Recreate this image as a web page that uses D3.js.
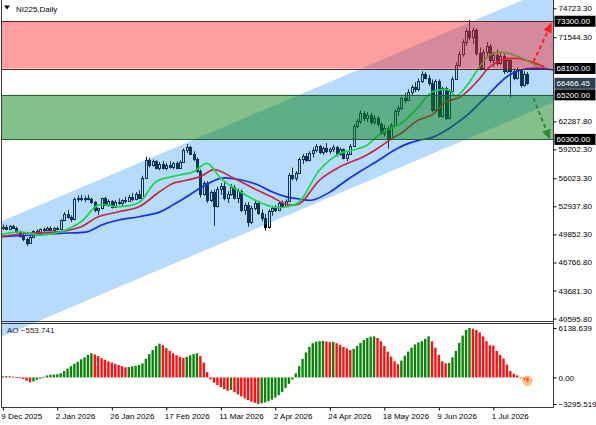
<!DOCTYPE html>
<html>
<head>
<meta charset="utf-8">
<script src="https://cdn.jsdelivr.net/npm/d3@7"></script>
<style>
  body { margin: 0; background: #fff; }
  svg { display: block; font-family: "Liberation Sans", Arial, sans-serif; }
</style>
</head>
<body>
<div id="chart"></div>
<script>
// ---------------------------------------------------------------------------
// NI225 Daily — candles, Alligator, channel, zones, AO
// ---------------------------------------------------------------------------

const dateTicks = ['9 Dec 2025', '2 Jan 2026', '26 Jan 2026', '17 Feb 2026', '11 Mar 2026',
  '2 Apr 2026', '24 Apr 2026', '18 May 2026', '9 Jun 2026', '1 Jul 2026'];
const dateTickIdx = [0, 16, 32, 48, 64, 80, 96, 112, 128, 144];

const opens = [50500,50700,50450,50750,50600,50100,49650,49300,48900,49600,
  50200,50000,50400,50300,50600,50350,50550,50450,51400,52100,
  51800,51500,53700,53900,53700,53850,53700,53400,52500,52700,
  53800,53100,53500,52900,53400,53300,53600,53500,54000,53700,
  54300,53900,56100,58000,57500,57900,57200,57600,57100,57500,
  57300,57700,57200,57800,59100,59500,58700,58100,56800,54300,
  55500,53600,54500,53000,54800,55200,53900,54300,55100,53900,
  54600,52500,53100,51200,52800,53300,52200,51600,50700,52400,
  52800,52500,53300,53000,53500,56400,56000,56600,58100,58500,
  58000,58800,59100,59600,58900,59300,59000,59200,59500,58700,
  59200,58300,58700,59600,61800,62300,63200,62600,63000,62200,
  62700,62000,61000,61600,60500,61900,63400,63700,64800,64600,
  65500,66100,65800,66700,67500,67100,66500,63500,66700,62900,
  65900,62600,65600,67000,68500,69700,71000,72200,71600,72300,
  69800,68200,69900,70600,69000,69600,68700,69500,67800,69000,
  67800,67100,67900,66300,67500];
const highs = [50950,50900,50880,50900,50700,50250,49900,49500,49700,50300,
  50400,50500,50600,50700,50750,50650,50700,51500,52300,52500,
  51950,53900,54150,54200,54100,54200,53900,53500,52800,53900,
  54000,53700,53600,53600,53800,53700,54000,54200,54400,54500,
  54700,56300,58400,58300,58100,58000,57800,57900,57700,57900,
  57800,57900,58000,59300,59790,59600,59000,58300,57000,55700,
  55700,54700,54800,55100,55500,55600,54600,55400,55300,54900,
  54800,53300,53400,53000,53600,53500,52600,52100,52600,53000,
  53100,53500,53600,53700,56600,57200,56800,58300,58700,58800,
  59000,59400,59800,59700,59500,59900,59400,59700,59600,59400,
  59300,58900,59800,62000,62600,63500,63400,63300,63200,63000,
  62900,62200,61900,61700,62100,63600,64000,65000,65400,65800,
  66300,66600,67000,67800,67700,67400,66900,66900,66900,66100,
  66100,65800,67200,68800,70000,71300,72500,73430,72600,72500,
  70400,70200,71000,70800,69900,70200,69900,69700,69300,69200,
  68100,68200,68000,67800,67700];
const lows = [50350,50300,50350,50450,50000,49500,49100,48570,48800,49500,
  49900,49950,50150,50200,50250,50200,50300,50400,51300,51600,
  51200,51400,53400,53500,53400,53600,53200,52300,52000,52600,
  53000,52900,52700,52800,53100,52900,53300,53400,53500,53600,
  53800,53800,56000,57200,57300,57000,56900,57000,56900,57100,
  57000,57000,57100,57700,58800,58600,57900,56600,53900,54100,
  53300,53400,50800,52800,54200,53600,53300,54100,53700,53300,
  52300,52000,50700,51000,52500,52000,51300,50300,50500,51900,
  52300,52400,52800,52900,53400,55800,55700,56500,57600,57800,
  57900,58300,58900,58700,58600,58800,58700,58900,58400,58500,
  58100,57900,58600,59500,61500,62000,62300,62200,61900,61900,
  61700,60800,60600,59300,60300,61700,62900,63500,64300,64500,
  65200,65500,65600,66500,66900,66200,63300,63200,62700,62700,
  62400,62500,65400,66900,68300,69400,70600,71200,70800,69500,
  67900,68000,69300,68700,68300,68400,68500,67500,67600,64900,
  66800,66900,66000,66100,66300];
const closes = [50700,50450,50750,50600,50100,49650,49300,48900,49600,50200,
  50000,50400,50300,50600,50350,50550,50450,51400,52100,51800,
  51500,53700,53900,53700,53850,53700,53400,52500,52700,53800,
  53100,53500,52900,53400,53300,53600,53500,54000,53700,54300,
  53900,56100,58000,57500,57900,57200,57600,57100,57500,57300,
  57700,57200,57800,59100,59500,58700,58100,56800,54300,55500,
  53600,54500,53000,54800,55200,53900,54300,55100,53900,54600,
  52500,53100,51200,52800,53300,52200,51600,50700,52400,52800,
  52500,53300,53000,53500,56400,56000,56600,58100,58500,58000,
  58800,59100,59600,58900,59300,59000,59200,59500,58700,59200,
  58300,58700,59600,61800,62300,63200,62600,63000,62200,62700,
  62000,61000,61600,60500,61900,63400,63700,64800,64600,65500,
  66100,65800,66700,67500,67100,66500,63500,66700,62900,65900,
  62600,65600,67000,68500,69700,71000,72200,71600,72300,69800,
  68200,69900,70600,69000,69600,68700,69500,67800,69000,67800,
  67100,67900,66300,67500,66466.45];

// Alligator lines (bar index, price)
const jawIdx = [-1, 9, 19, 25, 29, 34, 40, 46, 50, 54, 58, 64, 70, 75, 79, 83, 87, 91, 96, 101,
  105, 109, 115, 118, 122, 126, 131, 134, 137, 140, 142, 145, 148, 151, 154, 158, 162];
const jawVal = [49590, 49780, 50000, 50150, 50880, 51430, 51790, 52300, 53100, 53990, 54950, 56020,
  55830, 55280, 54540, 54000, 53740, 53630, 54500, 55830, 56800, 57700, 59130, 59700, 60200,
  60500, 61500, 62300, 63200, 64300, 65000, 66200, 67200, 67800, 68100, 68120, 67930];
const teethIdx = [-1, 8, 17, 23, 28, 34, 40, 46, 50, 52, 58, 62, 68, 74, 79, 83, 87, 93, 99, 106,
  110, 114, 117, 122, 126, 130, 134, 137, 140, 143, 147, 151, 155, 159];
const teethVal = [49590, 50000, 50150, 50690, 51790, 52340, 52890, 54540, 55470, 55650, 56200, 56985,
  56000, 54840, 53960, 53190, 53190, 55830, 57290, 58420, 59300, 60340, 61000, 62430, 63000,
  64400, 64900, 65800, 67000, 68300, 69100, 69200, 68850, 68250];
const lipsIdx = [-1, 5, 11, 17, 23, 28, 34, 40, 45, 52, 56, 60, 64, 68, 74, 79, 83, 87, 93, 99,
  103, 107, 111, 117, 122, 126, 131, 133, 136, 140, 143, 147, 150, 155, 157];
const lipsVal = [49780, 50140, 49780, 50140, 51240, 53080, 52890, 53360, 55650, 56380, 56740, 57670,
  56020, 54920, 53630, 52890, 52860, 53440, 56930, 58770, 59130, 59680, 60970, 62100, 63860,
  65510, 65730, 65070, 66100, 68300, 69580, 69880, 69580, 68760, 68290];

// Awesome Oscillator
const aoVals = [150, 160, 140, 100, 60,
  -50, -200, -400, -600, -500, -300, -150,
  80, 250, 330, 360, 400, 520,
  800, 1100, 1400, 1700, 1950, 2250, 2500, 2800, 3000,
  2850, 2650, 2400, 2200, 2000, 1850, 1700, 1550, 1400, 1250,
  1300, 1380, 1450, 1550, 1750,
  2300, 2900, 3400, 3900, 4200,
  4000, 3650, 3300, 3000, 2750, 2550, 2450,
  2550, 2750, 2900, 3000,
  2650, 1850, 650,
  -250, -650, -950, -1200, -1450, -1650, -1550, -1800, -2100, -2350, -2600, -2800, -3000, -3150, -3295.519,
  -3200, -3100, -2950, -2750, -2500, -2200, -1800, -1300, -800, -250,
  500, 1400, 2300, 3100, 3800, 4250, 4450, 4500, 4530,
  4450, 4380, 4420, 4250, 4050, 3800, 3600, 3400,
  3550, 3900, 4300, 4650, 4900, 5050, 5100,
  4900, 4500, 3900, 3200, 2600, 2000, 1650,
  2100, 2700, 3200, 3700, 4100, 4350, 4500, 4800, 5100,
  4500, 3700, 2800, 2000, 1750,
  1800, 2500, 3300, 4300, 5200, 5900, 6138.639,
  6050, 5900, 5600, 5100, 4500, 4000, 3950, 3300, 2800, 2350, 1600, 800, 450, 250, -100, -350, -553.741];

const priceTicks = [74723.30, 71544.30, 62287.80, 59202.30, 56023.30, 52937.80, 49852.30, 46766.80, 43681.30, 40595.80];
const levelPrices = [73300, 68100, 65200, 60300];
const lastPrice = 66466.45;
const aoTicks = [6138.639, 0, -3295.519];

const redZone = [68100, 73300];
const greenZone = [60300, 65200];
const channelIdx = [0, 154];
const channelUpper = [51340, 75860];
const channelLower = [38640, 63160];
const upArrowIdx = [155.8, 160.9];
const upArrowPrice = [68850, 72950];
const downArrowIdx = [155.8, 160.4];
const downArrowPrice = [64850, 60500];

// ---------------------------------------------------------------------------
const W = 596, H = 425;
const plotL = 1.5, plotR = 553.5;
const mainTop = 0, mainBot = 321.5;
const aoTop = 323.5, aoBot = 407.5;

const svg = d3.select('#chart').append('svg')
  .attr('width', W).attr('height', H)
  .attr('viewBox', `0 0 ${W} ${H}`);

const x = d3.scaleLinear().domain([0, 154]).range([2.8, 527.4]);
const y = d3.scaleLinear().domain([40595.8, 74723.3]).range([318.5, 8.3]);
const yAO = d3.scaleLinear().domain([-3295.519, 6138.639]).range([404, 328]);

const defs = svg.append('defs');
defs.append('clipPath').attr('id', 'clipMain')
  .append('rect').attr('x', plotL).attr('y', mainTop).attr('width', plotR - plotL).attr('height', mainBot - mainTop);
defs.append('clipPath').attr('id', 'clipAll')
  .append('rect').attr('x', plotL).attr('y', 0).attr('width', plotR - plotL).attr('height', aoBot);
[['arrRed', '#ff1e1e'], ['arrGreen', '#2f8a37']].forEach(([id, col]) => {
  defs.append('marker').attr('id', id)
    .attr('markerUnits', 'userSpaceOnUse')
    .attr('markerWidth', 10).attr('markerHeight', 9)
    .attr('refX', 8).attr('refY', 4.5).attr('orient', 'auto')
    .append('path').attr('d', 'M0,0 L10,4.5 L0,9 Z').attr('fill', col);
});

// Candles (bottom layer)
const candles = svg.append('g').attr('clip-path', 'url(#clipMain)');
d3.range(closes.length).forEach(i => {
  const px = Math.round(x(i));
  candles.append('line')
    .attr('x1', px + 0.5).attr('x2', px + 0.5)
    .attr('y1', y(highs[i])).attr('y2', y(lows[i]))
    .attr('stroke', '#000').attr('stroke-width', 1);
  const top = Math.round(y(Math.max(opens[i], closes[i])));
  const bot = Math.round(y(Math.min(opens[i], closes[i])));
  candles.append('rect')
    .attr('x', px - 0.5).attr('y', top + 0.5)
    .attr('width', 2).attr('height', Math.max(bot - top, 1))
    .attr('fill', closes[i] >= opens[i] ? '#fff' : '#000')
    .attr('stroke', '#000').attr('stroke-width', 1);
});

// Channel (over the candles, extends past the main window)
const chUp = d3.scaleLinear().domain(channelIdx).range(channelUpper);
const chLo = d3.scaleLinear().domain(channelIdx).range(channelLower);
const chPts = [[-10, chUp(-10)], [175, chUp(175)], [175, chLo(175)], [-10, chLo(-10)]];
svg.append('path')
  .attr('clip-path', 'url(#clipAll)')
  .attr('d', d3.line().x(d => x(d[0])).y(d => y(d[1]))(chPts) + 'Z')
  .attr('fill', 'rgb(40,150,245)').attr('fill-opacity', 0.34);

const main = svg.append('g').attr('clip-path', 'url(#clipMain)');

// Alligator
const lineGen = d3.line().x(d => x(d[0])).y(d => y(d[1])).curve(d3.curveCatmullRom.alpha(0.5));
[[jawIdx, jawVal, '#1430ee'], [teethIdx, teethVal, '#c8283a'], [lipsIdx, lipsVal, '#14da48']]
  .forEach(([ix, vals, col]) => {
    main.append('path')
      .datum(ix.map((d, k) => [d, vals[k]]))
      .attr('d', lineGen)
      .attr('fill', 'none').attr('stroke', col).attr('stroke-width', 1.7);
  });

// Zones
main.append('rect')
  .attr('x', plotL).attr('width', plotR - plotL)
  .attr('y', y(redZone[1])).attr('height', y(redZone[0]) - y(redZone[1]))
  .attr('fill', 'rgb(255,25,25)').attr('fill-opacity', 0.42);
main.append('rect')
  .attr('x', plotL).attr('width', plotR - plotL)
  .attr('y', y(greenZone[1])).attr('height', y(greenZone[0]) - y(greenZone[1]))
  .attr('fill', 'rgb(10,130,20)').attr('fill-opacity', 0.5);
[[redZone, '#6e1f1f'], [greenZone, '#2b5a38']].forEach(([z, col]) => {
  z.forEach(p => {
    const yy = Math.round(y(p)) + 0.5;
    main.append('line').attr('x1', plotL).attr('x2', plotR)
      .attr('y1', yy).attr('y2', yy).attr('stroke', col).attr('stroke-width', 1);
  });
});

// Dashed forecast arrows
const arrowLine = d3.line().x(d => x(d[0])).y(d => y(d[1]));
main.append('path')
  .attr('d', arrowLine(upArrowIdx.map((d, k) => [d, upArrowPrice[k]])))
  .attr('stroke', '#ff1e1e').attr('stroke-width', 2).attr('stroke-dasharray', '4,3')
  .attr('fill', 'none').attr('marker-end', 'url(#arrRed)');
main.append('path')
  .attr('d', arrowLine(downArrowIdx.map((d, k) => [d, downArrowPrice[k]])))
  .attr('stroke', '#2f8a37').attr('stroke-width', 2).attr('stroke-dasharray', '4,3')
  .attr('fill', 'none').attr('marker-end', 'url(#arrGreen)');

// AO histogram
const ao = svg.append('g');
aoVals.forEach((v, i) => {
  const up = i === 0 ? false : v > aoVals[i - 1];
  ao.append('rect')
    .attr('x', x(i) - 1.2).attr('width', 2.4)
    .attr('y', Math.min(yAO(0), yAO(v)))
    .attr('height', Math.max(Math.abs(yAO(v) - yAO(0)), 0.8))
    .attr('fill', up ? '#0a850a' : '#ff1010');
});
const lastI = aoVals.length - 1;
ao.append('circle')
  .attr('cx', x(lastI)).attr('cy', yAO(aoVals[lastI]) - 1)
  .attr('r', 4.6)
  .attr('fill', '#ff9a3a').attr('fill-opacity', 0.6)
  .attr('stroke', '#ffb870').attr('stroke-width', 1);

// Frames
const frame = svg.append('g').attr('fill', 'none').attr('stroke', '#3a3a3a').attr('stroke-width', 1);
frame.append('line').attr('x1', plotL).attr('x2', plotL).attr('y1', 0).attr('y2', aoBot);
frame.append('line').attr('x1', plotR).attr('x2', plotR).attr('y1', 0).attr('y2', aoBot);
frame.append('line').attr('x1', plotL).attr('x2', plotR).attr('y1', mainBot).attr('y2', mainBot);
frame.append('line').attr('x1', plotL).attr('x2', plotR).attr('y1', aoTop).attr('y2', aoTop);
frame.append('line').attr('x1', plotL).attr('x2', plotR).attr('y1', aoBot).attr('y2', aoBot);

// Axes
const priceAxis = svg.append('g').attr('transform', `translate(${plotR},0)`)
  .call(d3.axisRight(y).tickValues(priceTicks).tickFormat(d3.format('.2f')).tickSize(3).tickPadding(2));
const aoAxis = svg.append('g').attr('transform', `translate(${plotR},0)`)
  .call(d3.axisRight(yAO).tickValues(aoTicks)
    .tickFormat(d => d === 0 ? '0.00' : d3.format('.3f')(d)).tickSize(3).tickPadding(2));
const dateAxis = svg.append('g').attr('transform', `translate(0,${aoBot})`)
  .call(d3.axisBottom(x).tickValues(dateTickIdx).tickFormat((d, k) => dateTicks[k]).tickSize(3).tickPadding(3));
[priceAxis, aoAxis, dateAxis].forEach(a => {
  a.select('.domain').remove();
  a.selectAll('text').attr('font-size', '8px').attr('fill', '#000')
    .attr('font-family', '"Liberation Sans", Arial, sans-serif');
  a.selectAll('line').attr('stroke', '#000');
});
dateAxis.selectAll('text').attr('text-anchor', 'start').attr('x', -2);

// Level labels on the price scale
levelPrices.forEach(p => {
  const yy = y(p);
  svg.append('rect').attr('x', plotR + 1).attr('y', yy - 5.5)
    .attr('width', 41).attr('height', 11).attr('fill', '#000');
  svg.append('text').attr('x', plotR + 3).attr('y', yy).attr('dy', '0.34em')
    .attr('font-size', '8px').attr('fill', '#fff').text(d3.format('.2f')(p));
});
svg.append('rect').attr('x', plotR + 1).attr('y', y(lastPrice) - 5.5)
  .attr('width', 41).attr('height', 11).attr('fill', '#2c3e50');
svg.append('text').attr('x', plotR + 3).attr('y', y(lastPrice)).attr('dy', '0.34em')
  .attr('font-size', '8px').attr('fill', '#fff').text(d3.format('.2f')(lastPrice));

// Titles
svg.append('path').attr('d', 'M4,5.5 L10,5.5 L7,9.5 Z').attr('fill', '#000');
svg.append('text').attr('x', 16).attr('y', 12)
  .attr('font-size', '8px').attr('fill', '#000').text('NI225,Daily');
svg.append('text').attr('x', 7).attr('y', 333)
  .attr('font-size', '8px').attr('fill', '#1c2433')
  .text('AO ' + d3.format('.3f')(aoVals[lastI]));
</script>
</body>
</html>
